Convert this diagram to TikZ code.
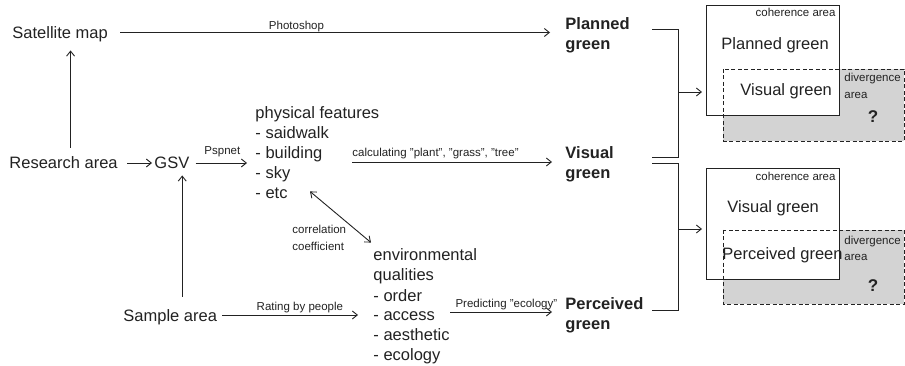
\documentclass[tikz,border=0pt]{standalone}
\usepackage{fontspec}
\setmainfont{Liberation Sans}
\usetikzlibrary{arrows.meta}
\definecolor{ink}{HTML}{222222}
\definecolor{shade}{HTML}{D3D3D3}
\newcommand\textstack[1]{\begin{tabular}[t]{@{}l@{}}#1\end{tabular}}
\begin{document}
\begin{tikzpicture}[x=1pt,y=-1pt,
  line width=0.9pt, color=ink,
  >={Straight Barb[length=5pt,width=8pt]},
  big/.style={font=\fontsize{16.5}{20}\selectfont, inner sep=0pt},
  one/.style={big, text height=12pt, text depth=0pt, anchor=base west},
  hd/.style={font=\bfseries\fontsize{16.5}{20}\selectfont, inner sep=0pt, anchor=base west},
  lbl/.style={font=\fontsize{11.5}{17}\selectfont, inner sep=0pt},
  flow/.style={->},
  areabox/.style={draw, fill=white, anchor=north west, inner sep=0pt,
    minimum width=133pt},
  divbox/.style={fill=shade},
  divedge/.style={dashed, dash pattern=on 4pt off 2.5pt, line width=0.8pt},
]
\useasboundingbox (0,0) rectangle (905,366);

% source nodes
\node[one] (sat) at (12,38.5) {Satellite map};
\node[one] (res) at (9,169) {Research area};
\node[one] (gsv) at (154,169) {GSV};
\node[one] (smp) at (123,321) {Sample area};
\node[big, anchor=base west] (phys) at (255,119)
  {\textstack{physical features\\- saidwalk\\- building\\- sky\\- etc}};
\node[big, anchor=base west] (env) at (373,261)
  {\textstack{environmental\\qualities\\- order\\- access\\- aesthetic\\- ecology}};

% the three kinds of green
\node[hd] (plg) at (565,30) {\textstack{Planned\\green}};
\node[hd] (vig) at (565,159) {\textstack{Visual\\green}};
\node[hd] (peg) at (565,309) {\textstack{Perceived\\green}};

% flows
\draw[flow, shorten <=12pt, shorten >=15pt] (sat.east) -- (sat.east -| plg.west)
  node[lbl, pos=0.412, anchor=base, yshift=3pt] {Photoshop};
\draw[flow, shorten <=9pt, shorten >=11.5pt] ([xshift=7pt]res.north)
  -- ([xshift=7pt]res.north |- sat.south);
\draw[flow, shorten <=9pt, shorten >=2pt] (res.east) -- (gsv.west);
\draw[flow, shorten <=6pt, shorten >=8pt] (gsv.east) -- (gsv.east -| phys.west)
  node[lbl, midway, anchor=base, yshift=8pt] {Pspnet};
\draw[flow, shorten <=12pt, shorten >=6pt] ([xshift=12pt]smp.north)
  -- ([xshift=12pt]smp.north |- gsv.south);
\draw[flow, shorten <=5pt, shorten >=15pt] (smp.east) -- (smp.east -| env.west)
  node[lbl, pos=0.53, anchor=base, yshift=5pt] {Rating by people};

\coordinate (calc0) at (352,162);
\draw[flow, shorten >=13pt] (calc0) -- (calc0 -| vig.west)
  node[lbl, pos=0, anchor=base west, yshift=5pt] {calculating "plant", "grass", "tree"};
\coordinate (pred0) at (450,312);
\draw[flow, shorten >=13pt] (pred0) -- (pred0 -| peg.west)
  node[lbl, pos=0.49, anchor=base, yshift=5pt] {Predicting "ecology"};

\draw[<->] ([shift={(55,-14)}]phys.south west) -- ([shift={(-2,-4)}]env.north west);
\node[lbl, anchor=base west] (corr) at (292,234) {\textstack{correlation\\coefficient}};

% brackets joining pairs of greens
\coordinate (u1) at (652,29);  \coordinate (u2) at (678,29);
\coordinate (u3) at (678,157); \coordinate (u4) at (652,157);
\coordinate (l1) at (652,163); \coordinate (l2) at (678,163);
\coordinate (l3) at (678,310); \coordinate (l4) at (652,310);
\draw (u1) -- (u2) -- (u3) -- (u4);
\draw (l1) -- (l2) -- (l3) -- (l4);
\coordinate (uj) at (678,92);
\coordinate (lj) at (678,229);

% upper comparison
\fill[divbox] (723,69) rectangle (904,141);
\node[areabox, minimum height=110pt] (box1) at (706,5) {};
\draw[divedge] (723,69) rectangle (904,141);
\node[lbl, anchor=base east] (coh1) at (836,17) {coherence area};
\node[big, anchor=base west] (t1a) at (721,50) {Planned green};
\node[big, anchor=base west] (t1b) at (740,96) {Visual green};
\node[lbl, anchor=base west] (div1) at (844,82) {\textstack{divergence\\area}};
\node[font=\bfseries\fontsize{17}{20}\selectfont, inner sep=0pt, anchor=base] (q1) at (873,123) {?};
\draw[flow, shorten >=4pt] (uj) -- (uj -| box1.west);

% lower comparison
\fill[divbox] (723,230) rectangle (904,304);
\node[areabox, minimum height=111pt] (box2) at (706,168) {};
\draw[divedge] (723,230) rectangle (904,304);
\node[lbl, anchor=base east] (coh2) at (836,181) {coherence area};
\node[big, anchor=base west] (t2a) at (727,213) {Visual green};
\node[big, anchor=base west] (t2b) at (722,259) {Perceived green};
\node[lbl, anchor=base west] (div2) at (844,244) {\textstack{divergence\\area}};
\node[font=\bfseries\fontsize{17}{20}\selectfont, inner sep=0pt, anchor=base] (q2) at (873,291) {?};
\draw[flow, shorten >=4pt] (lj) -- (lj -| box2.west);
\end{tikzpicture}
\end{document}
